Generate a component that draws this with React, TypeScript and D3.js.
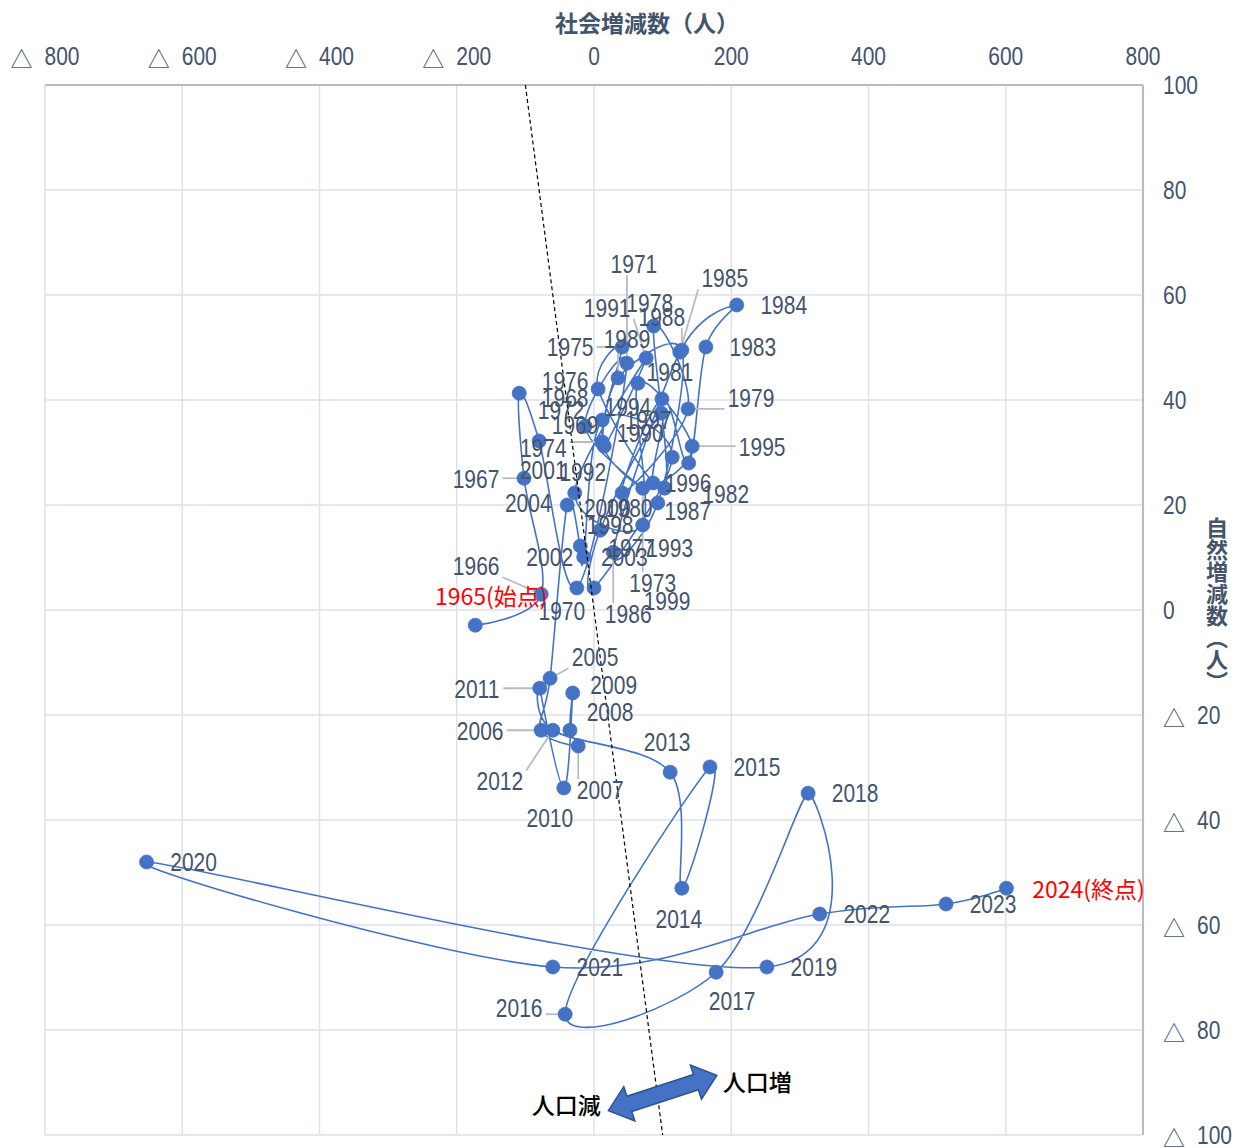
import React from 'react';
import * as d3 from 'd3';

// 年ごとの社会増減数（x）と自然増減数（y）
const years = d3.range(1965, 2025);
const social = [
  -173, -77, -102, -109, -80, -25, 48, -13, 71, 12,
  41, 6, 103, 87, 137, 41, 99, 138, 163, 208,
  125, 28, 93, 128, 35, 15, 76, -28, 71, 64,
  143, 86, 98, 9, 0, 114, 12, -15, -20, -39,
  -64, -77, -23, -35, -31, -44, -79, -60, 111, 128,
  169, -42, 178, 312, 252, -652, -60, 329, 513, 601,
];
const natural = [
  -2.9, 3.0, 25.1, 41.3, 32.2, 4.2, 47.0, 35.0, 23.2, 32.0,
  50.1, 42.1, 23.2, 54.1, 38.3, 22.3, 40.2, 28.0, 50.1, 58.1,
  49.1, 11.0, 20.4, 49.5, 44.2, 31.2, 48.0, 22.3, 16.2, 43.2,
  31.2, 24.2, 37.5, 15.2, 4.2, 29.1, 36.2, 10.1, 12.2, 20.0,
  -13.0, -22.9, -25.9, -22.9, -15.8, -33.9, -14.9, -22.9, -30.9, -53.0,
  -29.9, -77.0, -69.0, -34.9, -68.0, -48.0, -68.0, -57.9, -56.0, -53.0,
];
const xTicks = [-800, -600, -400, -200, 0, 200, 400, 600, 800];
const yTicks = [100, 80, 60, 40, 20, 0, -20, -40, -60, -80, -100];
const specialLabels: Record<number, string> = { 1965: '1965(始点)', 2024: '2024(終点)' };

// label placement (px from the marker); default is to the right
const labelOffset: Record<number, [number, number]> = {
  1965: [16, -30], 1966: [-65, -28], 1967: [-48, 1], 1968: [46, 5], 1969: [36, -16],
  1970: [-15, 23], 1971: [7, -99], 1972: [-24, -16], 1973: [10, 95], 1974: [-59, 6],
  1975: [-52, 0], 1976: [-33, -8], 1977: [-33, 60], 1978: [-4, -23], 1979: [63, -11],
  1980: [7, 15], 1981: [8, -27], 1982: [37, 31], 1985: [45, -74], 1986: [15, 62],
  1987: [30, 8], 1988: [-20, -33], 1989: [9, -39], 1990: [36, -13], 1991: [-39, -50],
  1992: [8, -21], 1993: [27, 23], 1994: [-10, 24], 1995: [70, 1], 1996: [35, 0],
  1997: [-13, 7], 1998: [10, -5], 1999: [73, 13], 2000: [-65, 51], 2001: [-59, 50],
  2002: [-34, 0], 2003: [44, 11], 2004: [-39, -2], 2005: [45, -21], 2006: [-61, 1],
  2007: [22, 44], 2008: [40, -18], 2009: [41, -8], 2010: [-14, 30], 2011: [-63, 1],
  2012: [-53, 51], 2013: [-3, -30], 2014: [-3, 31], 2016: [-46, -6], 2017: [16, 29],
  2024: [82, 0],
};
const leaders = [1966, 1967, 1971, 1973, 1974, 1975, 1979, 1985, 1986, 1987, 1988, 1989,
  1991, 1995, 2005, 2006, 2007, 2011, 2012, 2016];

const W = 1244;
const H = 1148;
const blue = '#4472c4';
const textCol = '#44546a';
const numFont = '"Liberation Sans", Arial, sans-serif';
const cjkFont = '"Noto Sans CJK JP", "Noto Sans", sans-serif';
const NARROW = 0.84;
const DIGIT_W = 25 * 0.556 * NARROW;

// condensed digits, like the original chart font
function Num({ x, y, anchor = 'middle', children, fill = textCol }: any) {
  return (
    <text transform={`translate(${x},${y}) scale(${NARROW},1)`} textAnchor={anchor}
      dominantBaseline="central" fontFamily={numFont} fontSize={25} fill={fill}>{children}</text>
  );
}

// "△ 800" style tick label, left edge at x
function Tick({ x, y, v }: { x: number; y: number; v: number }) {
  if (v >= 0) return <Num x={x} y={y} anchor="start">{v}</Num>;
  return (
    <g>
      <text x={x} y={y + 1} dominantBaseline="central" fontFamily={cjkFont} fontSize={22} fill={textCol}>△</text>
      <Num x={x + 34} y={y} anchor="start">{-v}</Num>
    </g>
  );
}
const tickW = (v: number) => (v >= 0 ? String(v).length * DIGIT_W : 34 + String(-v).length * DIGIT_W);

export default function App() {
  const x = d3.scaleLinear().domain([-800, 800]).range([45, 1143]);
  const y = d3.scaleLinear().domain([100, -100]).range([85, 1135]);

  const pts = years.map((yr, i) => ({ yr, sx: social[i], ny: natural[i] }));
  const line = d3.line<any>()
    .x(d => x(d.sx))
    .y(d => y(d.ny))
    .curve(d3.curveCardinal.tension(0));

  const labelW = (s: string) => (s.length > 4 ? 118 : 47);

  const cx = x(100);
  const cy = y(-92);

  return (
    <svg width={W} height={H} style={{ position: 'absolute', left: 0, top: 0, background: '#fff' }}>
      {/* grid */}
      {xTicks.map(t => (
        <line key={'gx' + t} x1={x(t)} x2={x(t)} y1={y(100)} y2={y(-100)} stroke="#dde1e8" strokeWidth={1.5} />
      ))}
      {yTicks.map(t => (
        <line key={'gy' + t} x1={x(-800)} x2={x(800)} y1={y(t)} y2={y(t)} stroke="#dde1e8" strokeWidth={1.5} />
      ))}
      <line x1={x(-800)} x2={x(800)} y1={y(100)} y2={y(100)} stroke="#b4bccb" strokeWidth={2} />
      <line x1={x(800)} x2={x(800)} y1={y(100)} y2={y(-100)} stroke="#b4bccb" strokeWidth={2} />

      {/* tick labels */}
      {xTicks.map(t => <Tick key={'tx' + t} x={x(t) - tickW(t) / 2} y={56} v={t} />)}
      {yTicks.map(t => <Tick key={'ty' + t} x={1163} y={y(t)} v={t} />)}

      {/* axis titles */}
      <text x={647} y={22} textAnchor="middle" dominantBaseline="central" fontFamily={cjkFont}
        fontSize={23} fontWeight={700} fill={textCol}>社会増減数（人）</text>
      <text x={1217} y={605} textAnchor="middle" fontFamily={cjkFont} fontSize={22} fontWeight={700}
        fill={textCol} style={{ writingMode: 'vertical-rl' as any }}>自然増減数（人）</text>

      {/* series */}
      <path d={line(pts) || ''} fill="none" stroke={blue} strokeWidth={1.6} />

      {/* leader lines */}
      {pts.filter(p => leaders.includes(p.yr)).map(p => {
        const px = x(p.sx), py = y(p.ny);
        const off = labelOffset[p.yr];
        const lx = px + off[0], ly = py + off[1];
        const w = labelW(specialLabels[p.yr] || String(p.yr));
        const l = lx - w / 2 - 3, r = lx + w / 2 + 3, t = ly - 11, b = ly + 11;
        const ex = Math.max(l, Math.min(r, px));
        const ey = Math.max(t, Math.min(b, py));
        return <line key={'ld' + p.yr} x1={ex} y1={ey} x2={px} y2={py} stroke="#b7bcc4" strokeWidth={1.8} />;
      })}

      {pts.map(p => (
        <circle key={'m' + p.yr} cx={x(p.sx)} cy={y(p.ny)} r={7} fill={blue} stroke={blue} strokeWidth={0.8} />
      ))}

      {/* population balance line: social + natural = 0 */}
      <line x1={x(-100)} y1={y(100)} x2={x(100)} y2={y(-100)} stroke="#000" strokeWidth={1.2} strokeDasharray="4 3" />

      {/* data labels */}
      {pts.map(p => {
        const off = labelOffset[p.yr] || [47, 0];
        const s = specialLabels[p.yr];
        const lx = x(p.sx) + off[0], ly = y(p.ny) + off[1];
        return s ? (
          <text key={'l' + p.yr} x={lx} y={ly} textAnchor="middle" dominantBaseline="central"
            fontFamily={cjkFont} fontSize={23} fill="#ff0000">{s}</text>
        ) : (
          <Num key={'l' + p.yr} x={lx} y={ly}>{p.yr}</Num>
        );
      })}

      {/* arrow annotation */}
      <g transform={`translate(${cx},${cy}) rotate(-18)`}>
        <path d="M-57,0 L-35,-18 L-35,-8 L35,-8 L35,-18 L57,0 L35,18 L35,8 L-35,8 L-35,18 Z"
          fill={blue} stroke="#2f528f" strokeWidth={1.5} />
      </g>
      <text x={cx - 62} y={cy + 11} textAnchor="end" dominantBaseline="central" fontFamily={cjkFont}
        fontSize={23} fontWeight={500} fill="#000">人口減</text>
      <text x={cx + 60} y={cy - 12} dominantBaseline="central" fontFamily={cjkFont}
        fontSize={23} fontWeight={500} fill="#000">人口増</text>
    </svg>
  );
}
